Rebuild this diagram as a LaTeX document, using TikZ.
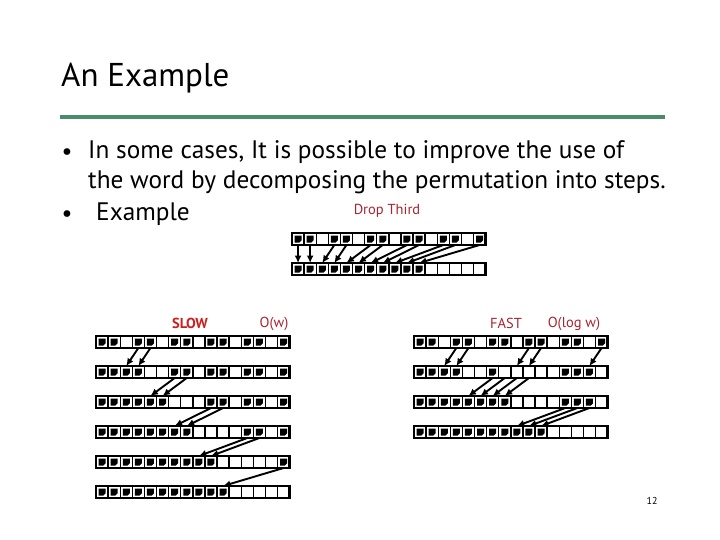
\documentclass[tikz,border=0pt]{standalone}
\usepackage{fontspec}
\setmainfont{PT Sans}
\usetikzlibrary{arrows.meta}

\definecolor{rulegreen}{RGB}{74,140,106}
\definecolor{labelred}{RGB}{168,36,48}
\definecolor{slowred}{RGB}{204,30,30}

\tikzset{
  cell/.style={draw, line width=1.4pt, minimum width=12.1pt, minimum height=12pt, inner sep=0pt, outer sep=0pt},
  rowframe/.style={draw, line width=2.4pt},
  bit/.style={fill=black},
  move/.style={-{Latex[length=7.5pt,width=7pt]}, line width=1.9pt},
  body/.style={anchor=base west, inner sep=0pt, font=\fontsize{25.3}{30}\selectfont},
  tag/.style={inner sep=0pt, text=labelred, font=\fontsize{14.5}{16}\selectfont},
  bullet/.style={anchor=base, inner sep=0pt, font=\fontsize{24}{26}\selectfont},
}

\newcommand\bitrow[4]{%
  \foreach \i in {0,...,15}
    \node[cell] (#1-\i) at ({#2+(\i+0.5)*12.1},{#3+6}) {};
  \draw[rowframe] (#1-0.north west) rectangle (#1-15.south east);
  \foreach \i in {#4}
    \fill[bit] ([shift={(-3.5,-3.5)}]#1-\i.center) -- ++(7,0) -- ++(0,4.8) -- ++(-2.2,2.2) -- ++(-4.8,0) -- cycle;
}

\begin{document}
\begin{tikzpicture}[x=1pt, y=-1pt]
  \useasboundingbox (0,0) rectangle (720,540);
  \node[anchor=base west, inner sep=0pt, font=\fontsize{33}{36}\selectfont] (title) at (61,87) {An Example};
  \draw[rulegreen, line width=4pt] (60,117) -- (665,117);
  \node[bullet] (bull1) at (67,160) {•};
  \node[body] (line1) at (88,159) {In some cases, It is possible to improve the use of};
  \node[body] (line2) at (88,189) {the word by decomposing the permutation into steps.};
  \node[bullet] (bull2) at (67,222) {•};
  \node[body] (line3) at (96,221) {Example};

  \node[tag] (drop) at (387,211) {Drop Third};
  \bitrow{d0}{292}{233}{0,1,3,4,6,7,9,10,12,13,15}
  \bitrow{d1}{292}{263}{0,...,10}
  \foreach \a/\b in {0/0,1/1,3/2,4/3,6/4,7/5,9/6,10/7,12/8,13/9,15/10}
    \draw[move] (d0-\a.south) -- (d1-\b.north);

  \node[tag, text=slowred, font=\bfseries\fontsize{14.5}{16}\selectfont] (slow) at (190,323) {SLOW};
  \node[tag] (slowcost) at (274,324) {O(w)};
  \bitrow{s0}{96}{336}{0,1,3,4,6,7,9,10,12,13,15}
  \bitrow{s1}{96}{366}{0,1,2,3,6,7,9,10,12,13,15}
  \bitrow{s2}{96}{396}{0,...,5,9,10,12,13,15}
  \bitrow{s3}{96}{426}{0,...,7,12,13,15}
  \bitrow{s4}{96}{456}{0,...,9,15}
  \bitrow{s5}{96}{486}{0,...,10}
  \foreach \a/\b in {3/2,4/3}
    \draw[move] (s0-\a.south) -- (s1-\b.north);
  \foreach \a/\b in {6/4,7/5}
    \draw[move] (s1-\a.south) -- (s2-\b.north);
  \foreach \a/\b in {9/6,10/7}
    \draw[move] (s2-\a.south) -- (s3-\b.north);
  \foreach \a/\b in {12/8,13/9}
    \draw[move] (s3-\a.south) -- (s4-\b.north);
  \draw[move] (s4-15.south) -- (s5-10.north);

  \node[tag] (fast) at (506,323) {FAST};
  \node[tag] (fastcost) at (574,324) {O(log w)};
  \bitrow{f0}{414}{336}{0,1,3,4,6,7,9,10,12,13,15}
  \bitrow{f1}{414}{366}{0,...,3,6,...,9,12,13,14}
  \bitrow{f2}{414}{396}{0,...,7,12,13,14}
  \bitrow{f3}{414}{426}{0,...,10}
  \foreach \a/\b in {3/2,4/3,9/8,10/9,15/14}
    \draw[move] (f0-\a.south) -- (f1-\b.north);
  \foreach \a/\b in {6/4,7/5,8/6,9/7}
    \draw[move] (f1-\a.south) -- (f2-\b.north);
  \foreach \a/\b in {12/8,13/9,14/10}
    \draw[move] (f2-\a.south) -- (f3-\b.north);

  \node[inner sep=0pt, font=\fontsize{10}{12}\selectfont] (page) at (652,501) {12};
\end{tikzpicture}
\end{document}
